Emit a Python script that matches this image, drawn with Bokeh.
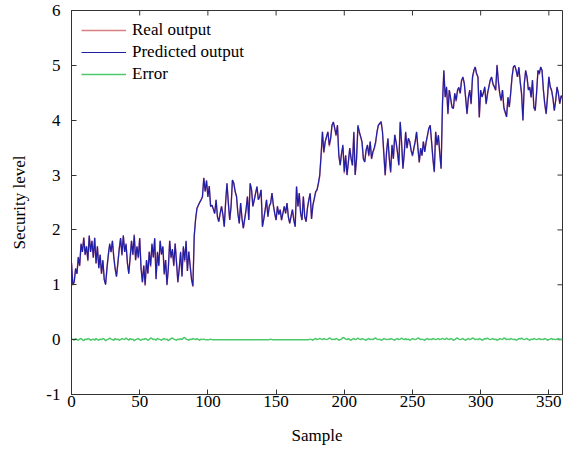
from bokeh.plotting import figure
from bokeh.models import FixedTicker, Range1d, Legend, LegendItem
from bokeh.embed import file_html
from bokeh.resources import INLINE

x_ticks = [0, 50, 100, 150, 200, 250, 300, 350]
y_ticks = [-1, 0, 1, 2, 3, 4, 5, 6]

# Predicted output (samples 0-89, 90-182, 183-271, 272-360)
pred_a = [1.40, 1.00, 1.05, 1.30, 1.20, 1.50, 1.35, 1.75, 1.60, 1.85,
          1.55, 1.70, 1.45, 1.90, 1.60, 1.80, 1.50, 1.85, 1.40, 1.70,
          1.30, 1.55, 1.20, 1.45, 1.10, 1.00, 1.30, 1.55, 1.75, 1.60,
          1.80, 1.50, 1.30, 1.15, 1.40, 1.65, 1.85, 1.55, 1.90, 1.60,
          1.75, 1.40, 1.20, 1.50, 1.80, 1.55, 1.90, 1.45, 1.70, 1.50,
          1.85, 1.30, 1.05, 1.35, 1.00, 1.45, 1.20, 1.60, 1.35, 1.75,
          1.50, 1.85, 1.10, 1.60, 1.35, 1.80, 1.55, 1.70, 1.20, 1.45,
          1.00, 1.30, 1.80, 1.50, 1.65, 1.35, 1.75, 1.40, 1.05, 1.30,
          1.60, 1.15, 1.70, 1.45, 1.80, 1.25, 1.60, 1.35, 1.10, 0.98]
pred_b = [1.90, 2.20, 2.40, 2.45, 2.50, 2.55, 2.60, 2.95, 2.70, 2.90,
          2.60, 2.80, 2.43, 2.45, 2.38, 2.30, 2.55, 2.24, 2.15, 2.30,
          2.43, 2.28, 2.06, 2.50, 2.85, 2.49, 2.18, 2.43, 2.91, 2.85,
          2.70, 2.61, 2.30, 2.12, 2.49, 2.21, 2.03, 2.20, 2.37, 2.61,
          2.18, 2.85, 2.73, 2.43, 2.55, 2.67, 2.79, 2.55, 2.61, 2.73,
          2.06, 2.20, 2.37, 2.55, 2.24, 2.43, 2.49, 2.67, 2.45, 2.30,
          2.18, 2.43, 2.28, 2.37, 2.18, 2.30, 2.43, 2.30, 2.49, 2.24,
          2.12, 2.25, 2.37, 2.18, 2.06, 2.79, 2.43, 2.67, 2.30, 2.18,
          2.61, 2.24, 2.15, 2.40, 2.55, 2.67, 2.20, 2.45, 2.57, 2.70,
          2.73, 2.85, 3.00]
pred_c = [3.36, 3.79, 3.42, 3.61, 3.70, 3.79, 3.55, 3.67, 3.91, 3.97,
          3.85, 3.73, 3.91, 3.36, 3.18, 3.40, 3.55, 3.06, 3.36, 3.00,
          3.24, 3.49, 3.30, 3.18, 3.79, 3.00, 3.30, 3.91, 3.79, 3.70,
          3.61, 3.30, 3.24, 3.45, 3.55, 3.36, 3.61, 3.30, 3.42, 3.50,
          3.61, 3.79, 3.91, 3.94, 3.97, 3.79, 3.40, 3.00, 3.42, 3.67,
          3.30, 3.06, 3.55, 3.30, 3.73, 3.60, 3.42, 3.18, 3.97, 3.61,
          3.12, 3.40, 3.79, 3.49, 3.67, 3.61, 3.45, 3.36, 3.49, 3.61,
          3.79, 3.50, 3.24, 3.49, 3.36, 3.61, 3.42, 3.60, 3.73, 3.85,
          3.91, 3.61, 3.30, 3.06, 3.79, 3.55, 3.73, 3.40, 3.12]
pred_d = [4.30, 4.91, 4.42, 4.61, 4.12, 4.55, 4.40, 4.24, 4.21, 4.49,
          4.36, 4.55, 4.60, 4.49, 4.73, 4.79, 4.67, 4.40, 4.12, 4.42,
          4.55, 4.30, 4.79, 4.91, 4.97, 4.85, 4.79, 4.06, 4.55, 4.42,
          4.50, 4.61, 4.30, 4.49, 4.61, 4.73, 4.79, 4.67, 4.61, 4.55,
          5.00, 4.70, 4.49, 4.36, 4.55, 4.24, 4.15, 4.06, 4.42, 4.24,
          4.50, 4.79, 4.97, 5.00, 4.91, 4.79, 4.97, 4.70, 4.49, 4.00,
          4.67, 4.91, 4.79, 4.55, 4.60, 4.42, 4.73, 4.24, 4.18, 4.50,
          4.91, 4.85, 4.97, 4.91, 4.55, 4.30, 4.12, 4.42, 4.79, 4.61,
          4.55, 4.40, 4.18, 4.36, 4.61, 4.49, 4.30, 4.45, 4.40]

# Error (small wiggle around zero)
err_a = [0.00, 0.01, -0.01, 0.02, 0.00, -0.01, 0.01, 0.02, 0.00, -0.02,
         0.01, 0.00, 0.02, 0.01, -0.01, 0.00, 0.01, -0.01, 0.02, 0.00,
         -0.01, 0.01, 0.00, 0.02, 0.01, -0.02, 0.00, 0.01, 0.03, 0.01,
         0.00, -0.01, 0.02, 0.00, 0.01, -0.01, 0.00, 0.02, 0.01, 0.00,
         0.03, 0.01, -0.01, 0.02, 0.00, 0.01, -0.02, 0.00, 0.01, 0.02,
         0.00, -0.01, 0.01, 0.00, 0.02, 0.01, -0.01, 0.00, 0.03, 0.02,
         0.00, 0.01, -0.01, 0.02, 0.01, 0.00, -0.01, 0.01, 0.02, 0.00,
         0.01, -0.02, 0.00, 0.02, 0.03, 0.01, 0.00, -0.01, 0.01, 0.00,
         0.02, 0.00, 0.03, 0.04, 0.01, 0.00, -0.01, 0.01, 0.00, 0.02]
err_b = [0.01, 0.00, 0.02, 0.00, -0.01, 0.01, 0.00, 0.01, 0.00, 0.00,
         0.00, 0.00, 0.01, 0.00, 0.00, 0.00, 0.00, 0.00, 0.00, 0.00,
         0.00, 0.00, 0.00, 0.00, 0.00, 0.00, 0.00, 0.00, 0.00, 0.00,
         0.00, 0.00, 0.00, 0.00, 0.00, 0.00, 0.00, 0.00, 0.00, 0.00,
         0.00, 0.00, 0.00, 0.00, 0.00, 0.00, 0.00, 0.00, 0.00, 0.00,
         0.00, 0.00, 0.00, 0.00, 0.00, 0.00, 0.01, 0.00, 0.00, 0.00,
         0.00, 0.00, 0.00, 0.00, 0.00, 0.00, 0.00, 0.00, 0.00, 0.00,
         0.00, 0.00, 0.00, 0.00, 0.00, 0.00, 0.00, 0.00, 0.00, 0.00,
         0.00, 0.00, 0.00, 0.00, 0.00, 0.01, 0.00, -0.01, 0.01, 0.02,
         0.00, 0.01, 0.02]
err_c = [0.01, 0.00, 0.02, 0.01, 0.00, 0.01, 0.03, 0.02, 0.00, 0.01,
         0.00, 0.02, 0.01, -0.01, 0.00, 0.01, 0.04, 0.03, 0.01, 0.00,
         0.02, 0.00, -0.01, 0.01, 0.02, 0.00, 0.01, 0.03, 0.01, 0.00,
         0.02, 0.01, 0.00, -0.01, 0.01, 0.02, 0.00, 0.01, 0.00, 0.02,
         0.03, 0.01, 0.00, 0.01, -0.01, 0.00, 0.02, 0.01, 0.00, 0.01,
         0.00, 0.02, 0.01, 0.00, -0.01, 0.01, 0.02, 0.00, 0.01, 0.03,
         0.01, 0.00, 0.02, 0.00, 0.01, -0.01, 0.00, 0.02, 0.01, 0.00,
         0.01, 0.03, 0.02, 0.00, 0.01, 0.00, -0.01, 0.01, 0.02, 0.00,
         0.01, 0.00, 0.02, 0.01, 0.00, 0.01, 0.02, 0.00, 0.01]
err_d = [0.02, 0.01, 0.00, 0.03, 0.01, 0.00, 0.02, 0.01, -0.01, 0.00,
         0.02, 0.03, 0.01, 0.00, 0.01, 0.02, 0.00, -0.01, 0.01, 0.02,
         0.00, 0.01, 0.03, 0.02, 0.00, 0.01, 0.00, 0.02, 0.01, -0.01,
         0.00, 0.02, 0.01, 0.03, 0.01, 0.00, 0.01, 0.02, 0.00, 0.01,
         -0.01, 0.00, 0.02, 0.01, 0.00, 0.03, 0.02, 0.00, 0.01, 0.00,
         0.02, 0.01, 0.00, 0.01, -0.01, 0.00, 0.02, 0.01, 0.03, 0.01,
         0.00, 0.01, 0.02, 0.00, -0.01, 0.01, 0.00, 0.02, 0.01, 0.00,
         0.01, 0.02, 0.00, 0.01, 0.00, 0.02, 0.01, -0.01, 0.00, 0.01,
         0.02, 0.00, 0.01, 0.00, 0.01, 0.02, 0.00, 0.01, 0.00]

predicted = pred_a + pred_b + pred_c + pred_d
error = err_a + err_b + err_c + err_d
real = [round(pv - ev, 3) for pv, ev in zip(predicted, error)]
samples = list(range(len(predicted)))

FONT = "Liberation Serif"
W, H = 563, 449
BL, BR, BT, BB = 71, 1, 10, 55
X0, X1, Y0, Y1 = 0, 360, -1, 6

p = figure(width=W, height=H, x_range=Range1d(X0, X1), y_range=Range1d(Y0, Y1),
           output_backend="svg", toolbar_location=None,
           min_border_left=BL, min_border_right=BR, min_border_top=BT, min_border_bottom=BB,
           background_fill_color="white", border_fill_color="white")
p.grid.visible = False
p.outline_line_color = "#333333"
p.outline_line_width = 1

for ax, ticks in ((p.xaxis[0], x_ticks), (p.yaxis[0], y_ticks)):
    ax.ticker = FixedTicker(ticks=ticks)
    ax.major_tick_in = 5
    ax.major_tick_out = 0
    ax.minor_tick_line_color = None
    ax.axis_line_color = "#333333"
    ax.major_tick_line_color = "#333333"
    ax.major_label_text_font = FONT
    ax.major_label_text_font_size = "17px"
    ax.major_label_text_color = "black"
    ax.axis_label_text_font = FONT
    ax.axis_label_text_font_size = "17px"
    ax.axis_label_text_font_style = "normal"
    ax.axis_label_text_color = "black"

p.yaxis[0].major_label_overrides = {-1: "-1"}
p.xaxis[0].axis_label = "Sample"
p.yaxis[0].axis_label = "Security level"
p.xaxis[0].major_label_standoff = 1
p.xaxis[0].axis_label_standoff = 16
p.yaxis[0].major_label_standoff = 11
p.yaxis[0].axis_label_standoff = 14

# inward ticks on the top and right frame edges (5 px long)
frame_w = W - BL - BR
frame_h = H - BT - BB
dx = 5 * (X1 - X0) / frame_w
dy = 5 * (Y1 - Y0) / frame_h
p.segment(x0=x_ticks, y0=[Y1] * len(x_ticks), x1=x_ticks, y1=[Y1 - dy] * len(x_ticks),
          line_color="#333333", line_width=1)
p.segment(x0=[X1] * len(y_ticks), y0=y_ticks, x1=[X1 - dx] * len(y_ticks), y1=y_ticks,
          line_color="#333333", line_width=1)

r_real = p.line(samples, real, line_color="#d98080", line_width=1.5)
r_pred = p.line(samples, predicted, line_color="#1e1ea6", line_width=1.2)
r_err = p.line(samples, error, line_color="#4cc96a", line_width=1.5)

legend = Legend(items=[LegendItem(label="Real output", renderers=[r_real]),
                       LegendItem(label="Predicted output", renderers=[r_pred]),
                       LegendItem(label="Error", renderers=[r_err])],
                location="top_left")
legend.label_text_font = FONT
legend.label_text_font_size = "17px"
legend.label_text_color = "black"
legend.border_line_color = None
legend.background_fill_alpha = 0
legend.glyph_width = 45
legend.label_standoff = 6
legend.spacing = 2
legend.label_height = 20
legend.glyph_height = 20
legend.margin = 10
legend.padding = 6
p.add_layout(legend)

open("out.html", "w").write(file_html(p, INLINE))
